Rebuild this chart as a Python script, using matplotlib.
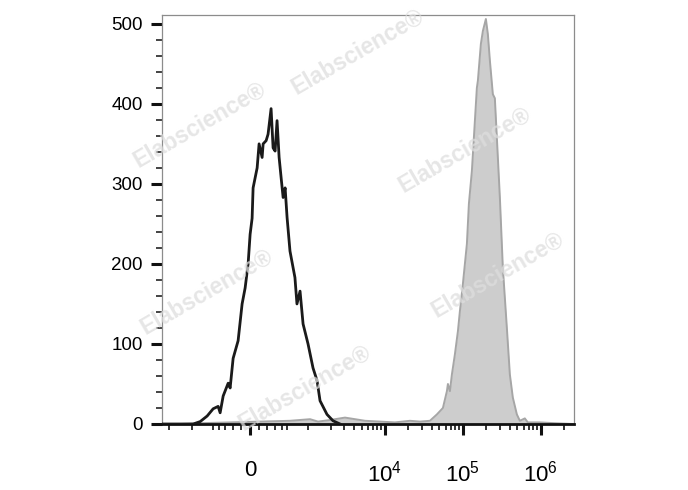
import matplotlib
matplotlib.use('Agg')
import matplotlib.pyplot as plt
from matplotlib.ticker import FixedLocator, FixedFormatter, NullFormatter

plt.rcParams['font.family'] = ['Liberation Sans', 'DejaVu Sans']
plt.rcParams['mathtext.fontset'] = 'custom'
plt.rcParams['mathtext.rm'] = 'Liberation Sans'
plt.rcParams['mathtext.it'] = 'Liberation Sans:italic'

# unstained / isotype control (black outline)
control_x = [-2400, -1447, -967, -772, -610, -493, -407, -375, -329, -259, -233, -195,
             -135, -89, -55, -22, 0, 22, 33, 78, 100, 135, 147, 183, 207, 246, 273,
             301, 329, 360, 391, 424, 458, 493, 548, 651, 697, 772, 852, 998, 1166,
             1322, 1447, 1786, 2141, 2641]
control_counts = [0, 0, 0, 3, 10, 19, 22, 14, 35, 51, 45, 82,
                  104, 150, 170, 200, 237, 257, 295, 320, 350, 333, 350, 354, 362, 394, 345,
                  341, 379, 333, 308, 283, 295, 258, 216, 183, 150, 166, 125, 100, 70,
                  54, 29, 12, 4, 0]

# stained sample (grey filled)
stained_x = [-2400, -1447, -772, -233, 113, 548, 1063, 1360, 1958, 3060, 4128, 5545,
             8636, 13430, 20920, 28110, 37740, 46360, 55350, 62280, 64180, 68090,
             72210, 78850, 86220, 91420, 99850, 112400, 119200, 130200, 138200,
             150900, 155500, 169900, 180200, 196900, 208800, 221600, 241900, 256600,
             272200, 297600, 325000, 365900, 399600, 436400, 491500, 537100, 621800,
             679500, 968500, 1507000, 2560000]
stained_counts = [0, 0, 1, 2, 3, 4, 6, 3, 5, 8, 6, 4,
                  3, 2, 4, 3, 4, 12, 20, 41, 50, 41,
                  62, 87, 116, 141, 175, 225, 275, 316, 358,
                  420, 429, 475, 491, 506, 487, 454, 412, 407,
                  358, 283, 195, 120, 62, 33, 12, 4, 7,
                  2, 2, 1, 0]

major_x = [0, 1e4, 1e5, 1e6]
major_x_labels = ['0', '$10^{4}$', '$10^{5}$', '$10^{6}$']
minor_x = ([-2000, -1000, -500, -400, -300, -200, -100, 100, 200, 300, 400, 500,
            1000, 2000, 3000, 4000, 5000, 6000, 7000, 8000, 9000]
           + [k * 1e4 for k in range(2, 10)] + [k * 1e5 for k in range(2, 10)] + [2e6])

fig = plt.figure(figsize=(6.88, 4.90), dpi=100)
ax = fig.add_axes([0.2355, 0.1347, 0.5985, 0.8347])

ax.fill_between(stained_x, stained_counts, 0, color='#cdcdcd', lw=0, zorder=1)
ax.plot(stained_x, stained_counts, color='#a6a6a6', lw=1.4, zorder=2)
ax.plot(control_x, control_counts, color='#1a1a1a', lw=2.0, zorder=3)

ax.set_xscale('asinh', linear_width=373)
ax.set_xlim(-2500, 2.64e6)
ax.set_ylim(0, 511)

ax.xaxis.set_major_locator(FixedLocator(major_x))
ax.xaxis.set_major_formatter(FixedFormatter(major_x_labels))
ax.xaxis.set_minor_locator(FixedLocator(minor_x))
ax.xaxis.set_minor_formatter(NullFormatter())
ax.set_yticks([0, 100, 200, 300, 400, 500])
ax.set_yticks(range(0, 511, 20), minor=True)

ax.tick_params(axis='x', which='major', length=8, width=2.2, pad=18, labelsize=16, color='#111111')
ax.tick_params(axis='x', which='minor', length=4.5, width=1.2, color='#111111')
ax.tick_params(axis='y', which='major', length=8, width=2.2, pad=6, labelsize=13.5, color='#111111')
ax.tick_params(axis='y', which='minor', length=4, width=1.1, color='#111111')

for side in ['top', 'right', 'left']:
    ax.spines[side].set_color('#8c8c8c')
    ax.spines[side].set_linewidth(0.9)
ax.spines['bottom'].set_color('#111111')
ax.spines['bottom'].set_linewidth(2)

# watermark
marks = [(0.291, 0.745), (0.520, 0.895), (0.676, 0.694),
         (0.301, 0.404), (0.724, 0.439), (0.443, 0.208)]
for mx, my in marks:
    fig.text(mx, my, 'Elabscience\u00ae', fontsize=16.5, fontweight='bold', color='#dedede',
             alpha=0.75, rotation=30, ha='center', va='center', zorder=5)

fig.savefig('out.png', dpi=100)
